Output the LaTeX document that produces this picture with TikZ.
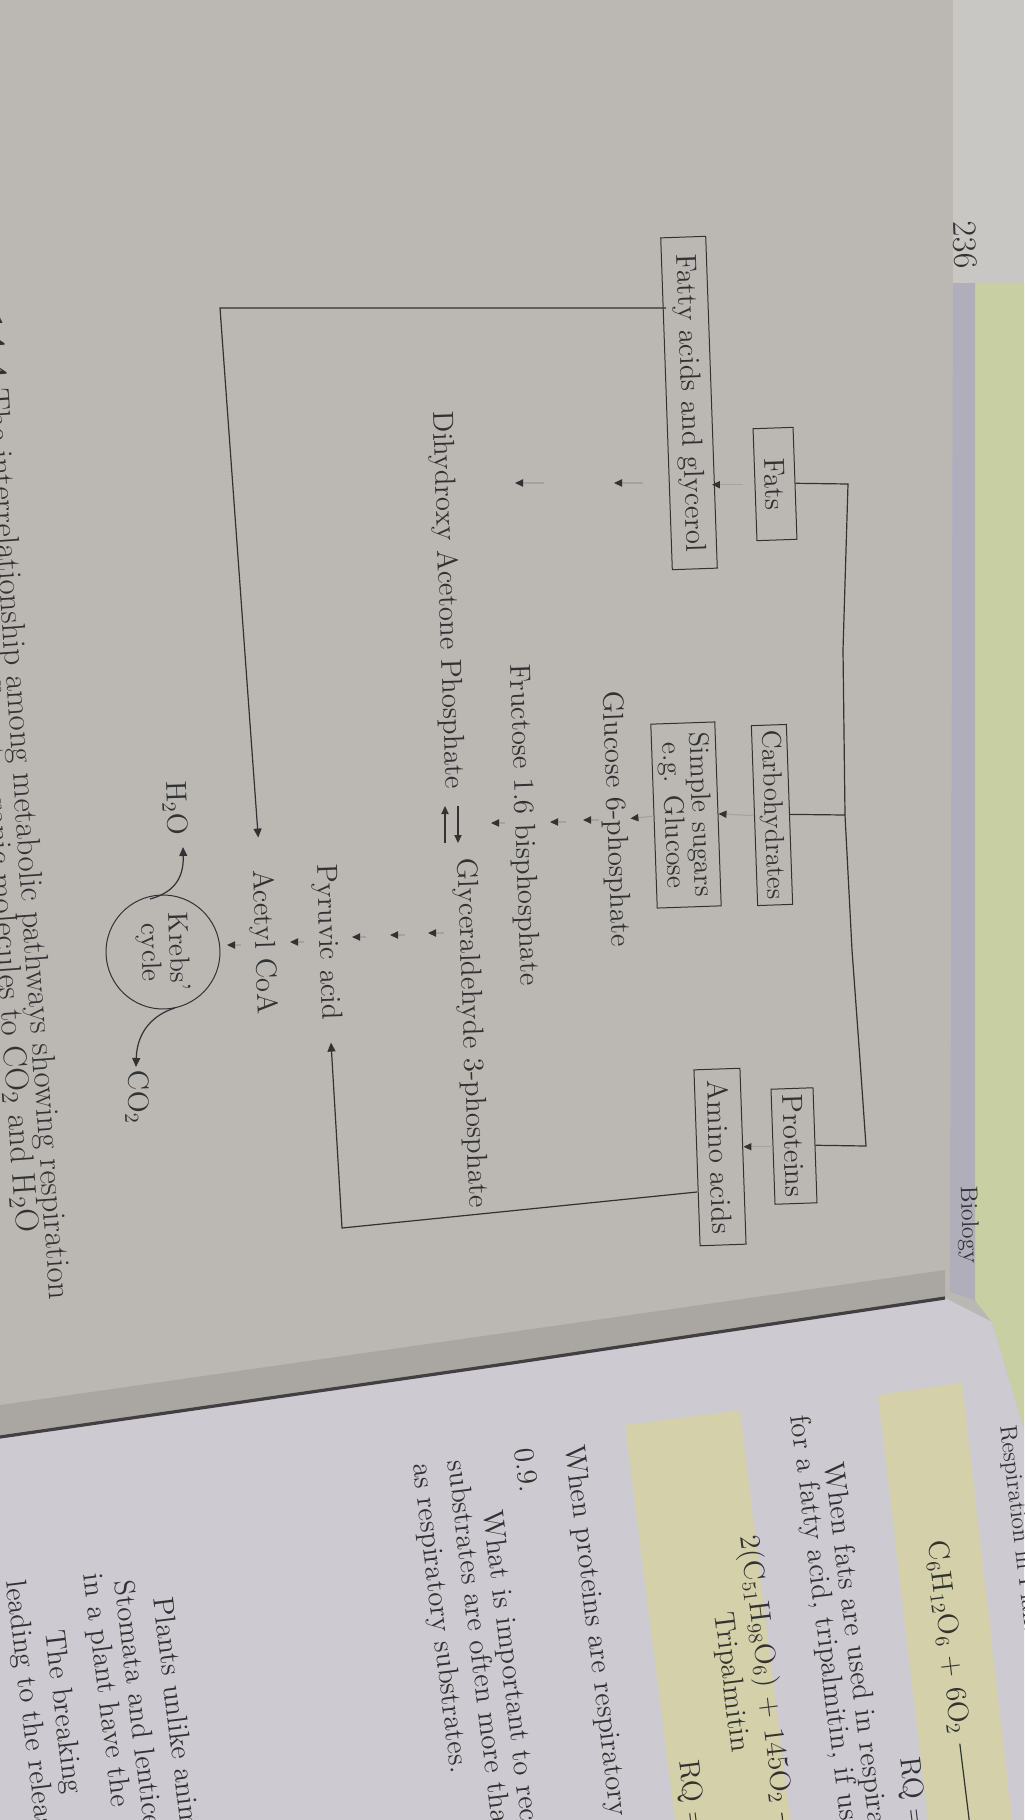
\documentclass[tikz,border=0pt]{standalone}
\usetikzlibrary{arrows.meta,calc}
\definecolor{pagegray}{RGB}{187,184,179}
\definecolor{pagetop}{RGB}{200,199,196}
\definecolor{rpage}{RGB}{205,203,209}
\definecolor{ink}{RGB}{50,50,50}
\definecolor{yellowbox}{RGB}{212,208,170}
\definecolor{desk}{RGB}{200,207,162}
\definecolor{edgestrip}{RGB}{176,174,186}
\begin{document}
\begin{tikzpicture}[x=0.5pt,y=-0.5pt,
  every node/.style={text=ink,font=\fontsize{14.5}{16}\selectfont},
  box/.style={draw=ink,line width=0.5pt,rotate=-88,inner xsep=3pt,inner ysep=2pt},
  lbl/.style={rotate=-88,inner sep=1pt},
  steparrow/.style={draw=ink!45,line width=0.6pt,-{Triangle[length=4pt,width=3.6pt,color=ink]}},
  link/.style={draw=ink,line width=0.6pt},
  linkarrow/.style={link,-{Triangle[length=4.5pt,width=4pt]}},
  rtext/.style={rotate=-83,anchor=west,inner sep=0pt,font=\fontsize{14.5}{16}\selectfont},
  captext/.style={rotate=-86,anchor=east,inner sep=0pt,font=\fontsize{16.5}{18}\selectfont}]

\useasboundingbox (0,0) rectangle (1024,1820);
\clip (0,0) rectangle (1024,1820);

% ---------- photo background ----------
\fill[pagegray] (0,0) rectangle (1024,1820);
\fill[pagetop] (953,0) rectangle (1024,283);
\fill[desk] (975,283) -- (1024,283) -- (1024,1430) -- (992,1322) -- (975,1300) -- cycle;
\fill[edgestrip] (953,283) -- (975,283) -- (975,1300) -- (950,1292) -- cycle;
\fill[rpage] (0,1437) -- (512,1363) -- (945,1298) -- (992,1322) -- (1024,1430) -- (1024,1820) -- (0,1820) -- cycle;
\fill[yellowbox] (878,1395) -- (962,1383) -- (1012,1820) -- (928,1820) -- cycle;
\fill[yellowbox] (625,1425) -- (740,1410) -- (790,1820) -- (675,1820) -- cycle;
\fill[black,opacity=0.09] (0,1405) -- (945,1270) -- (945,1298) -- (512,1363) -- (0,1437) -- cycle;
\draw[line width=1.6pt,black!75] (0,1437) -- (512,1363) -- (945,1298);

% ---------- page furniture ----------
\node[rotate=-88,font=\fontsize{17}{17}\selectfont] (pno) at (965,245) {236};
\node[rotate=-88,font=\fontsize{12}{12}\selectfont] (hdr) at (968,1225) {Biology};

% ---------- right page text ----------
\node[rtext,font=\fontsize{12}{12}\selectfont] (r0) at (1006,1425) {Respiration in Plants};
\node[rtext] (r1) at (936,1540) {C$_6$H$_{12}$O$_6$ + 6O$_2$ \rule[0.5ex]{50pt}{0.6pt}};
\node[rtext] (r2) at (906,1757) {RQ = $\frac{6\mathrm{CO_2}}{6\mathrm{O_2}}$ = 1.0};
\node[rtext] (r3) at (832,1462) {When fats are used in respiration, the RQ is less than 1.};
\node[rtext] (r4) at (798,1415) {for a fatty acid, tripalmitin, if used as a substrate is shown:};
\node[rtext] (r5) at (748,1535) {2(C$_{51}$H$_{98}$O$_6$) + 145O$_2$ \rule[0.5ex]{50pt}{0.6pt}};
\node[rtext] (r6) at (722,1612) {Tripalmitin};
\node[rtext] (r7) at (685,1760) {RQ = $\frac{102\mathrm{CO_2}}{145\mathrm{O_2}}$ = 0.7};
\node[rtext] (r8) at (572,1445) {When proteins are respiratory substrates the ratio would be about};
\node[rtext] (r9) at (524,1448) {0.9.};
\node[rtext] (r10) at (490,1510) {What is important to recognise is that in living organisms};
\node[rtext] (r11) at (455,1460) {substrates are often more than one; pure proteins or fats};
\node[rtext] (r12) at (420,1463) {as respiratory substrates.};
\node[rtext] (r13) at (163,1597) {Plants unlike animals};
\node[rtext] (r14) at (124,1580) {Stomata and lenticels};
\node[rtext] (r15) at (91,1573) {in a plant have the};
\node[rtext] (r16) at (52,1630) {The breaking};
\node[rtext] (r17) at (13,1580) {leading to the release};

% ---------- caption ----------
\node[captext] (cap1) at (58,1300) {\textbf{Figure 14.4} The interrelationship among metabolic pathways showing respiration};
\node[captext] (cap2) at (25,1233) {mediated breakdown of different organic molecules to CO$_2$ and H$_2$O};

% ---------- diagram nodes ----------
\node[box,minimum width=56pt,minimum height=20pt] (fats) at (775,484) {Fats};
\node[box,minimum width=90pt,minimum height=17.5pt,inner xsep=1pt,font=\fontsize{13.5}{15}\selectfont] (carb) at (772,815) {Carbohydrates};
\node[box,minimum width=57pt,minimum height=21pt] (prot) at (794,1146) {Proteins};
\node[box,minimum width=166pt,minimum height=22.5pt] (fatty) at (689,403) {Fatty acids and glycerol};
\node[box,minimum width=92pt,minimum height=32pt,align=center,font=\fontsize{14}{13.5}\selectfont] (sugar) at (686,815) {Simple sugars\\e.g. Glucose};
\node[box,minimum width=88pt,minimum height=23pt] (amino) at (720,1157) {Amino acids};

\node[lbl] (g6p) at (615,819) {Glucose 6-phosphate};
\node[lbl] (f16) at (523,825) {Fructose 1.6 bisphosphate};
\node[lbl] (dhap) at (447,600) {Dihydroxy Acetone Phosphate};
\node[lbl] (g3p) at (471,1033) {Glyceraldehyde 3-phosphate};
\node[lbl] (pyr) at (327,942) {Pyruvic acid};
\node[lbl] (acoa) at (263,942) {Acetyl CoA};
\node[draw=ink,line width=0.5pt,circle,minimum size=57pt,inner sep=0pt,align=center,rotate=-88,font=\fontsize{14}{14}\selectfont] (krebs) at (163,952) {Krebs'\\cycle};
\node[lbl] (h2o) at (175,808) {H$_2$O};
\node[lbl] (co2) at (137,1097) {CO$_2$};

% ---------- bracket joining the three food groups ----------
\coordinate (b1) at (848,484);
\coordinate (b2) at (843,650);
\coordinate (b3) at (845,815);
\coordinate (b4) at (852,950);
\coordinate (b5) at (860,1060);
\coordinate (b6) at (866,1146);
\draw[link] (fats.north) -- (b1) -- (b2) -- (b3) -- (b4) -- (b5) -- (b6) -- (prot.north);
\draw[link] (carb.north) -- (b3);

% ---------- first steps ----------
\draw[steparrow,shorten <=6pt] (fats.south) -- (fats.south -| fatty.north);
\draw[steparrow] (carb.south) -- (sugar.north);
\draw[steparrow] (prot.south) -- (prot.south -| amino.north);
\draw[steparrow] (sugar.south) -- (g6p.north);

% ---------- glycolysis chain (short step arrows) ----------
\coordinate (s1a) at (643,483); \coordinate (s1b) at (614,483);
\coordinate (s2a) at (544,483); \coordinate (s2b) at (515,483);
\draw[steparrow] (s1a) -- (s1b);
\draw[steparrow] (s2a) -- (s2b);

\coordinate (s3a) at (599,820); \coordinate (s3b) at (583,820);
\coordinate (s4a) at (566,822); \coordinate (s4b) at (550,822);
\coordinate (s5a) at (505,823); \coordinate (s5b) at (491,823);
\draw[steparrow] (s3a) -- (s3b);
\draw[steparrow] (s4a) -- (s4b);
\draw[steparrow] (s5a) -- (s5b);

% equilibrium DHAP <-> G3P
\coordinate (e1a) at (458,806); \coordinate (e1b) at (458,843);
\coordinate (e2a) at (445,843); \coordinate (e2b) at (445,806);
\draw[link,-{Triangle[length=4pt,width=3.6pt]}] (e1a) -- (e1b);
\draw[link,-{Triangle[length=4pt,width=3.6pt]}] (e2a) -- (e2b);

\coordinate (s6a) at (444,933); \coordinate (s6b) at (428,933);
\coordinate (s7a) at (405,935); \coordinate (s7b) at (390,935);
\coordinate (s8a) at (366,937); \coordinate (s8b) at (352,937);
\draw[steparrow] (s6a) -- (s6b);
\draw[steparrow] (s7a) -- (s7b);
\draw[steparrow] (s8a) -- (s8b);

\coordinate (s9a) at (304,942); \coordinate (s9b) at (290,942);
\coordinate (s10a) at (241,945); \coordinate (s10b) at (227,945);
\draw[steparrow] (s9a) -- (s9b);
\draw[steparrow] (s10a) -- (s10b);

% ---------- long connectors ----------
\coordinate (cA) at (220,308);
\draw[linkarrow,shorten >=15pt] (cA -| fatty.south) -- (cA) -- (acoa.west);

\coordinate (aOut) at (697,1192);
\coordinate (cB) at (342,1228);
\draw[linkarrow,shorten >=10pt] (aOut) -- (cB) -- (pyr.east);

% Krebs products
\coordinate (k1) at (150,899);
\coordinate (k2) at (175,1008);
\draw[linkarrow] (k1) .. controls (172,893) and (184,880) .. (183,847);
\draw[linkarrow] (k2) .. controls (155,1014) and (137,1030) .. (136,1067);

\end{tikzpicture}
\end{document}
